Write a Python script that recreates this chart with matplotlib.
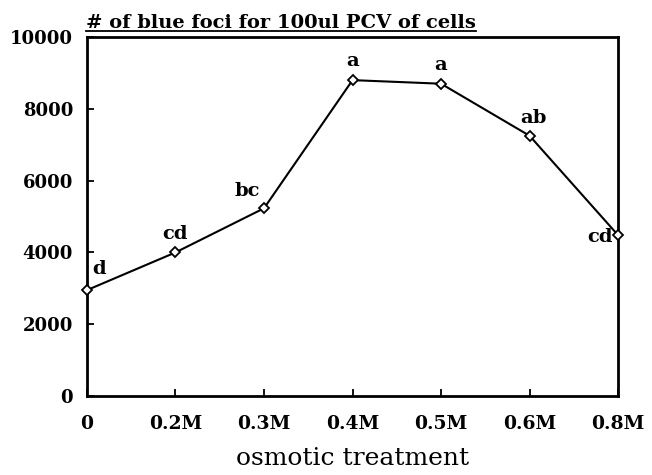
import matplotlib.pyplot as plt
from matplotlib.lines import Line2D

# data
treatments = ['0', '0.2M', '0.3M', '0.4M', '0.5M', '0.6M', '0.8M']
foci = [2950, 4000, 5230, 8800, 8700, 7250, 4480]
letters = ['d', 'cd', 'bc', 'a', 'a', 'ab', 'cd']
# label offsets in points (dx, dy), horizontal and vertical alignment
offsets = [(4, 9, 'left', 'bottom'), (0, 7, 'center', 'bottom'),
           (-3, 6, 'right', 'bottom'), (0, 7, 'center', 'bottom'),
           (0, 7, 'center', 'bottom'), (3, 6, 'center', 'bottom'),
           (-4, -1, 'right', 'center')]

plt.rcParams['font.family'] = 'DejaVu Serif'
plt.rcParams['font.weight'] = 'bold'

fig = plt.figure(figsize=(6.52, 4.75), dpi=100)
ax = fig.add_axes([0.1334, 0.1663, 0.8146, 0.7557])

x = list(range(len(treatments)))
ax.plot(x, foci, color='black', lw=1.5, marker='D', ms=5, mfc='white',
        mec='black', mew=1.3, clip_on=False, zorder=5)

for xi, yi, lab, (dx, dy, ha, va) in zip(x, foci, letters, offsets):
    ax.annotate(lab, (xi, yi), xytext=(dx, dy), textcoords='offset points',
                ha=ha, va=va, fontsize=14, fontweight='bold')

ax.set_xlim(0, len(treatments) - 1)
ax.set_ylim(0, 10000)
ax.set_xticks(x)
ax.set_xticklabels(treatments)
ax.set_yticks([0, 2000, 4000, 6000, 8000, 10000])
ax.tick_params(direction='in', length=5, width=1.3)
ax.tick_params(axis='x', labelsize=13.5, pad=14)
ax.tick_params(axis='y', labelsize=13, pad=10)
for s in ax.spines.values():
    s.set_linewidth(2)

ax.set_xlabel('osmotic treatment', fontsize=18, fontweight='normal', labelpad=10)

title = fig.text(0.132, 0.932, '# of blue foci for 100ul PCV of cells',
                 fontsize=14, fontweight='bold', ha='left', va='bottom')

# underline the title
fig.canvas.draw()
bb = title.get_window_extent().transformed(fig.transFigure.inverted())
fig.add_artist(Line2D([bb.x0, bb.x1], [bb.y0 + 0.002, bb.y0 + 0.002],
                      color='black', lw=1.3, transform=fig.transFigure))

fig.savefig('out.png', dpi=100)
